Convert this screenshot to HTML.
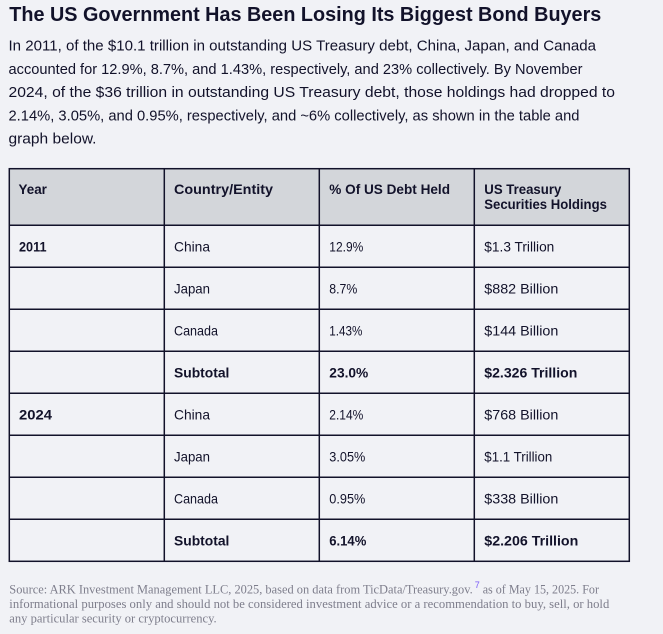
<!DOCTYPE html>
<html>
<head>
<meta charset="utf-8">
<style>
html,body{margin:0;padding:0;background:#f1f2f6;}
svg{display:block;}
.t{font-family:"Liberation Sans",sans-serif;fill:#12122a;}
.b{font-weight:bold;}
.f{font-family:"Liberation Serif",serif;fill:#7e7e8c;font-size:12.5px;}
</style>
</head>
<body>
<svg width="663" height="634" viewBox="0 0 663 634" xmlns="http://www.w3.org/2000/svg">
<rect x="0" y="0" width="663" height="634" fill="#f1f2f6"/>

<text class="t b" x="9.3" y="21" font-size="20" textLength="592" lengthAdjust="spacingAndGlyphs">The US Government Has Been Losing Its Biggest Bond Buyers</text>

<text class="t" x="8.5" y="50.5" font-size="15" textLength="587.5" lengthAdjust="spacingAndGlyphs">In 2011, of the $10.1 trillion in outstanding US Treasury debt, China, Japan, and Canada</text>
<text class="t" x="8.5" y="74" font-size="15" textLength="574" lengthAdjust="spacingAndGlyphs">accounted for 12.9%, 8.7%, and 1.43%, respectively, and 23% collectively. By November</text>
<text class="t" x="8.5" y="97" font-size="15" textLength="606.5" lengthAdjust="spacingAndGlyphs">2024, of the $36 trillion in outstanding US Treasury debt, those holdings had dropped to</text>
<text class="t" x="8.5" y="120.3" font-size="15" textLength="571" lengthAdjust="spacingAndGlyphs">2.14%, 3.05%, and 0.95%, respectively, and ~6% collectively, as shown in the table and</text>
<text class="t" x="8.5" y="143.5" font-size="15" textLength="88" lengthAdjust="spacingAndGlyphs">graph below.</text>

<!-- table -->
<rect x="9.3" y="168.7" width="620" height="56.6" fill="#d3d6da"/>
<g stroke="#12122a" stroke-width="1.5" fill="none">
<rect x="9.3" y="168.7" width="620" height="392.6"/>
<line x1="164.3" y1="168.7" x2="164.3" y2="561.3"/>
<line x1="319.3" y1="168.7" x2="319.3" y2="561.3"/>
<line x1="474.3" y1="168.7" x2="474.3" y2="561.3"/>
<line x1="9.3" y1="225.3" x2="629.3" y2="225.3"/>
<line x1="9.3" y1="267.3" x2="629.3" y2="267.3"/>
<line x1="9.3" y1="309.3" x2="629.3" y2="309.3"/>
<line x1="9.3" y1="351.3" x2="629.3" y2="351.3"/>
<line x1="9.3" y1="393.3" x2="629.3" y2="393.3"/>
<line x1="9.3" y1="435.3" x2="629.3" y2="435.3"/>
<line x1="9.3" y1="477.3" x2="629.3" y2="477.3"/>
<line x1="9.3" y1="519.3" x2="629.3" y2="519.3"/>
</g>

<g class="t b" font-size="13.5">
<text x="18.5" y="194" textLength="28.4" lengthAdjust="spacingAndGlyphs">Year</text>
<text x="174" y="194" textLength="99" lengthAdjust="spacingAndGlyphs">Country/Entity</text>
<text x="329.3" y="194" textLength="120.7" lengthAdjust="spacingAndGlyphs">% Of US Debt Held</text>
<text x="484.3" y="194" textLength="77" lengthAdjust="spacingAndGlyphs">US Treasury</text>
<text x="484.3" y="209" textLength="122.6" lengthAdjust="spacingAndGlyphs">Securities Holdings</text>
</g>

<g class="t" font-size="14">
<text class="b" x="19" y="251.5" textLength="27.5" lengthAdjust="spacingAndGlyphs">2011</text>
<text x="174" y="251.5" textLength="36" lengthAdjust="spacingAndGlyphs">China</text>
<text x="329.3" y="251.5" textLength="34" lengthAdjust="spacingAndGlyphs">12.9%</text>
<text x="484.3" y="251.5" textLength="70" lengthAdjust="spacingAndGlyphs">$1.3 Trillion</text>

<text x="174" y="293.5" textLength="36" lengthAdjust="spacingAndGlyphs">Japan</text>
<text x="329.3" y="293.5" textLength="28" lengthAdjust="spacingAndGlyphs">8.7%</text>
<text x="484.3" y="293.5" textLength="74" lengthAdjust="spacingAndGlyphs">$882 Billion</text>

<text x="174" y="335.5" textLength="44" lengthAdjust="spacingAndGlyphs">Canada</text>
<text x="329.3" y="335.5" textLength="33" lengthAdjust="spacingAndGlyphs">1.43%</text>
<text x="484.3" y="335.5" textLength="74" lengthAdjust="spacingAndGlyphs">$144 Billion</text>

<text class="b" x="174" y="377.5" textLength="55.4" lengthAdjust="spacingAndGlyphs">Subtotal</text>
<text class="b" x="329.3" y="377.5" textLength="39" lengthAdjust="spacingAndGlyphs">23.0%</text>
<text class="b" x="484.3" y="377.5" textLength="93" lengthAdjust="spacingAndGlyphs">$2.326 Trillion</text>

<text class="b" x="19" y="419.5" textLength="33" lengthAdjust="spacingAndGlyphs">2024</text>
<text x="174" y="419.5" textLength="36" lengthAdjust="spacingAndGlyphs">China</text>
<text x="329.3" y="419.5" textLength="34" lengthAdjust="spacingAndGlyphs">2.14%</text>
<text x="484.3" y="419.5" textLength="74" lengthAdjust="spacingAndGlyphs">$768 Billion</text>

<text x="174" y="461.5" textLength="36" lengthAdjust="spacingAndGlyphs">Japan</text>
<text x="329.3" y="461.5" textLength="36" lengthAdjust="spacingAndGlyphs">3.05%</text>
<text x="484.3" y="461.5" textLength="68" lengthAdjust="spacingAndGlyphs">$1.1 Trillion</text>

<text x="174" y="503.5" textLength="44" lengthAdjust="spacingAndGlyphs">Canada</text>
<text x="329.3" y="503.5" textLength="36" lengthAdjust="spacingAndGlyphs">0.95%</text>
<text x="484.3" y="503.5" textLength="74" lengthAdjust="spacingAndGlyphs">$338 Billion</text>

<text class="b" x="174" y="545.5" textLength="55.4" lengthAdjust="spacingAndGlyphs">Subtotal</text>
<text class="b" x="329.3" y="545.5" textLength="37" lengthAdjust="spacingAndGlyphs">6.14%</text>
<text class="b" x="484.3" y="545.5" textLength="94" lengthAdjust="spacingAndGlyphs">$2.206 Trillion</text>
</g>

<!-- footer -->
<text class="f" x="9.3" y="593.3" textLength="463.4" lengthAdjust="spacingAndGlyphs">Source: ARK Investment Management LLC, 2025, based on data from TicData/Treasury.gov.</text>
<text x="474.7" y="588" font-family="Liberation Sans, sans-serif" font-size="9" fill="#7a5af8">7</text>
<text class="f" x="482.7" y="593.3" textLength="116.3" lengthAdjust="spacingAndGlyphs">as of May 15, 2025. For</text>
<text class="f" x="9.3" y="607.8" textLength="600" lengthAdjust="spacingAndGlyphs">informational purposes only and should not be considered investment advice or a recommendation to buy, sell, or hold</text>
<text class="f" x="9.3" y="622.3" textLength="207.4" lengthAdjust="spacingAndGlyphs">any particular security or cryptocurrency.</text>
</svg>
</body>
</html>
